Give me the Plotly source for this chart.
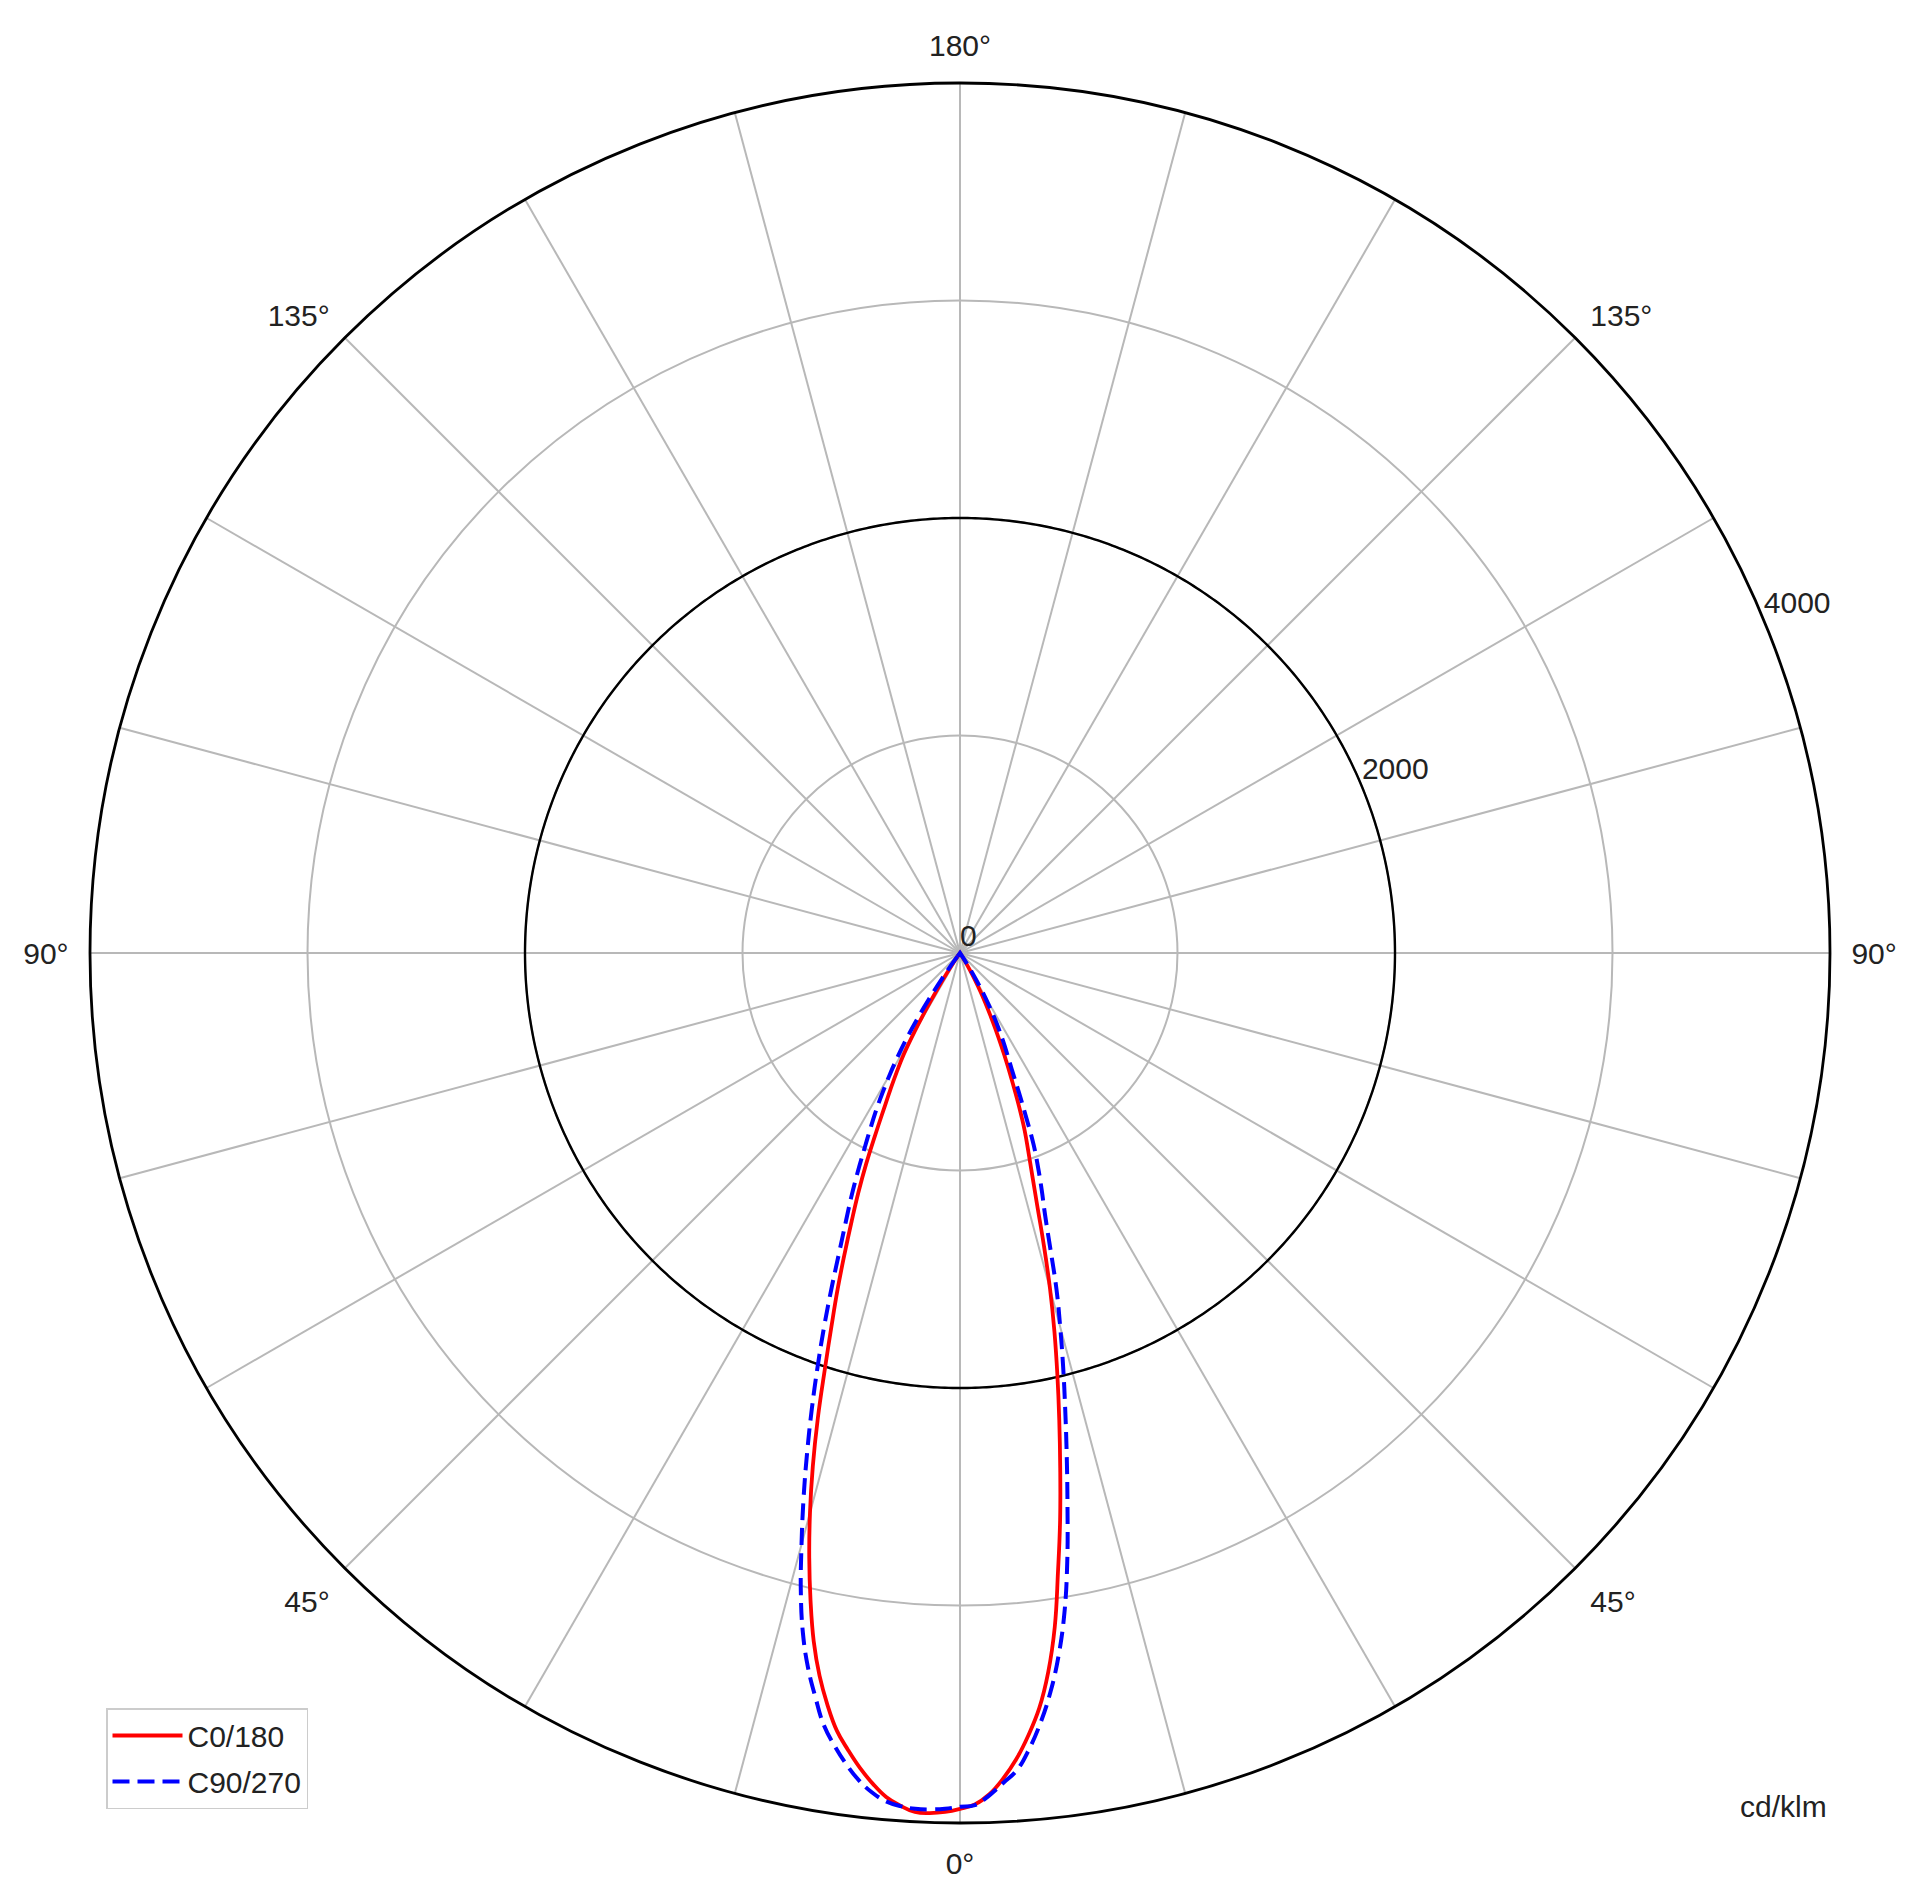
import numpy as np
import plotly.graph_objects as go

# Gamma angles (degrees from nadir), 1 degree steps
gamma = list(range(0, 39))
# Luminous intensity (cd/klm)
c0 = [3935, 3915, 3870, 3800, 3715, 3610, 3490, 3330, 3130, 2880,
      2650, 2415, 2195, 1990, 1795, 1600, 1400, 1215, 1075, 965,
      870, 760, 650, 555, 465, 385, 315, 255, 200, 145,
      90, 45, 15, 0, 0, 0, 0, 0, 0]
c180 = [3935, 3950, 3957, 3955, 3930, 3895, 3840, 3775, 3700, 3620,
        3510, 3385, 3235, 3055, 2865, 2665, 2455, 2235, 2010, 1815,
        1645, 1480, 1330, 1195, 1060, 920, 800, 705, 620, 535,
        420, 300, 195, 110, 50, 15, 0, 0, 0]
c90 = [3925, 3918, 3875, 3820, 3765, 3670, 3555, 3420, 3260, 3070,
       2840, 2590, 2360, 2150, 1960, 1780, 1610, 1420, 1265, 1155,
       1050, 945, 805, 685, 585, 515, 455, 395, 335, 270,
       210, 150, 95, 50, 20, 0, 0, 0, 0]
c270 = [3925, 3935, 3940, 3940, 3932, 3915, 3880, 3830, 3765, 3690,
        3605, 3485, 3360, 3210, 3025, 2815, 2610, 2405, 2205, 2010,
        1825, 1645, 1480, 1345, 1230, 1115, 1005, 910, 825, 735,
        645, 555, 460, 355, 245, 145, 65, 20, 0]

angle_tickvals = list(range(0, 360, 15))
angle_ticktext = ["0°", "", "", "45°", "", "", "90°", "", "", "135°", "", "",
                  "180°", "", "", "135°", "", "", "90°", "", "", "45°", "", ""]
radial_tickvals = [0, 1000, 2000, 3000, 4000]
radial_labels = ["0", "2000", "4000"]
radial_label_vals = [0, 2000, 4000]
unit_label = "cd/klm"

FONT = "Liberation Sans, Arial, Helvetica, sans-serif"
TXT = "#222222"


def half_curves(left, right):
    theta = [360 - g for g in reversed(gamma)] + gamma[1:]
    r = list(reversed(left)) + right[1:]
    return theta, r


fig = go.Figure()

# Black circle at 2000
circ_t = np.linspace(0, 360, 721)
fig.add_trace(go.Scatterpolar(r=[2000] * len(circ_t), theta=circ_t, mode="lines",
                              line=dict(color="black", width=2.4), showlegend=False,
                              hoverinfo="skip"))

t1, r1 = half_curves(c180, c0)
fig.add_trace(go.Scatterpolar(r=r1, theta=t1, mode="lines", name="C0/180", legendgroup="a",
                              line=dict(color="#ff0000", width=3.8, shape="spline", smoothing=1.2)))
t2, r2 = half_curves(c270, c90)
fig.add_trace(go.Scatterpolar(r=r2, theta=t2, mode="lines", name="C90/270", legendgroup="b",
                              line=dict(color="#0000ff", width=4.0, dash="17px,8px",
                                        shape="spline", smoothing=1.2)))

# Radial tick labels along 22.5 degrees above the right horizontal
fig.add_trace(go.Scatterpolar(r=radial_label_vals, theta=[112.5] * 3, mode="text",
                              text=radial_labels, textposition="top right",
                              textfont=dict(size=30, color=TXT, family=FONT),
                              showlegend=False, hoverinfo="skip"))

fig.update_layout(
    width=1920, height=1904,
    paper_bgcolor="white",
    margin=dict(l=82, r=98, t=75, b=89, autoexpand=False),
    font=dict(family=FONT, size=30, color=TXT),
    polar=dict(
        domain=dict(x=[0, 1], y=[0, 1]),
        bgcolor="white",
        radialaxis=dict(range=[0, 4000], tickvals=radial_tickvals, showticklabels=False,
                        ticks="", showline=False, gridcolor="#b8b8b8", gridwidth=1.6,
                        angle=22.5),
        angularaxis=dict(rotation=-90, direction="counterclockwise",
                         tickvals=angle_tickvals, ticktext=angle_ticktext,
                         ticks="outside", ticklen=14, tickcolor="rgba(0,0,0,0)",
                         showline=True, linecolor="black", linewidth=2.8,
                         gridcolor="#b8b8b8", gridwidth=1.6,
                         tickfont=dict(size=30, color=TXT, family=FONT)),
    ),
    legend=dict(x=(106 - 90) / 1740, y=1 - (1708 - 83) / 1740, xanchor="left", yanchor="top",
                bgcolor="white", bordercolor="#cccccc", borderwidth=1.5,
                itemwidth=70, tracegroupgap=4,
                font=dict(size=30, color=TXT, family=FONT)),
    annotations=[dict(text=unit_label, xref="paper", yref="paper",
                      x=(1783 - 90) / 1740, y=1 - (1806 - 83) / 1740,
                      xanchor="center", yanchor="middle", showarrow=False,
                      font=dict(size=30, color=TXT, family=FONT))],
)

fig.write_html("out.html")
